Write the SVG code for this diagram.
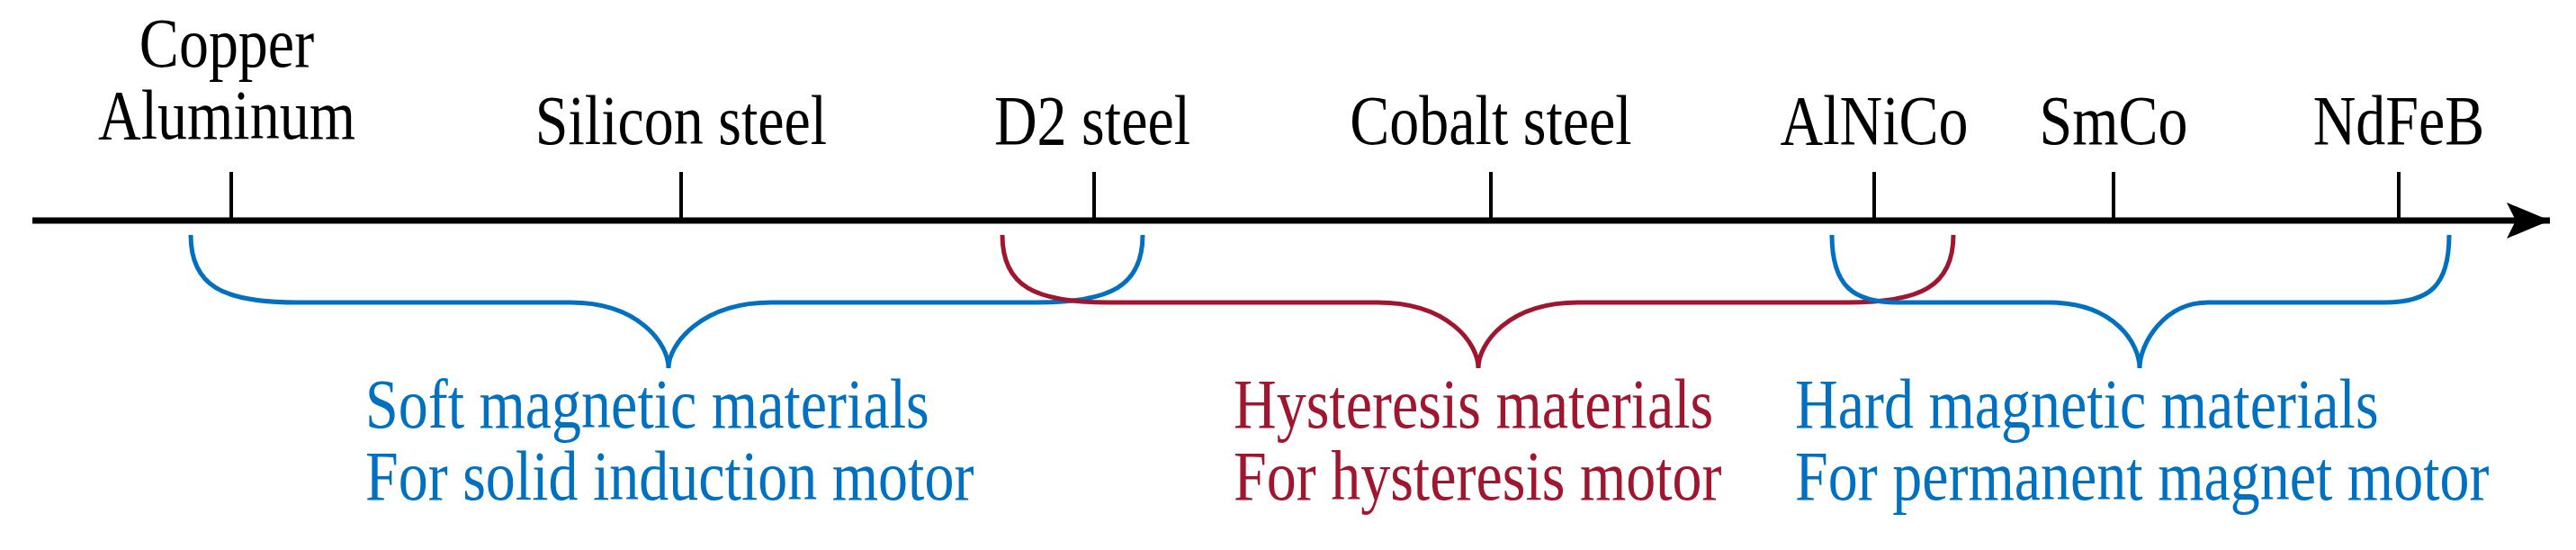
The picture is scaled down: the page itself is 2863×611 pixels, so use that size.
<svg xmlns="http://www.w3.org/2000/svg" width="2863" height="611" viewBox="0 0 2863 611">
<style>
text{font-family:"Liberation Serif","Times New Roman",serif;font-size:66px}
.k{fill:#000;text-anchor:middle}
.b{fill:#0070C0}.r{fill:#A0162F}
.tick{stroke:#000;stroke-width:4}
.br{fill:none;stroke-width:5}
</style>
<defs><marker id="ah" markerWidth="52" markerHeight="44" refX="48" refY="20" orient="auto" markerUnits="userSpaceOnUse"><path d="M0,0 L48,20 L0,40 L10,20 Z" fill="#000"/></marker></defs>
<g id="axis">
<line x1="36" y1="245" x2="2834" y2="245" stroke="#000" stroke-width="7" marker-end="url(#ah)"/>
<line class="tick" x1="257" y1="191" x2="257" y2="245"/>
<line class="tick" x1="757" y1="191" x2="757" y2="245"/>
<line class="tick" x1="1216" y1="191" x2="1216" y2="245"/>
<line class="tick" x1="1657" y1="191" x2="1657" y2="245"/>
<line class="tick" x1="2083" y1="191" x2="2083" y2="245"/>
<line class="tick" x1="2349" y1="191" x2="2349" y2="245"/>
<line class="tick" x1="2666" y1="191" x2="2666" y2="245"/>
</g>
<g id="labels">
<text class="k" transform="translate(252,74) scale(1,1.18)">Copper</text>
<text class="k" transform="translate(252,154) scale(1,1.18)">Aluminum</text>
<text class="k" transform="translate(757,160) scale(1,1.18)">Silicon steel</text>
<text class="k" transform="translate(1214,160) scale(1,1.18)">D2 steel</text>
<text class="k" transform="translate(1657,160) scale(1,1.18)">Cobalt steel</text>
<text class="k" transform="translate(2083,160) scale(1,1.18)">AlNiCo</text>
<text class="k" transform="translate(2349,160) scale(1,1.18)">SmCo</text>
<text class="k" transform="translate(2666,160) scale(1,1.18)">NdFeB</text>
</g>
<g id="connectors">
<path class="br" stroke="#0070C0" d="M212,261 C212,318 248,336 330,336 L634,336 C710,336 743,382 743,409 C743,382 780,336 857,336 L1152,336 C1234,336 1270,318 1270,261"/>
<path class="br" stroke="#A0162F" d="M1114,261 C1114,318 1150,336 1232,336 L1531,336 C1610,336 1643,382 1643,409 C1643,382 1676,336 1754,336 L2053,336 C2135,336 2171,318 2171,261"/>
<path class="br" stroke="#0070C0" d="M2036,261 C2036,318 2060,336 2109,336 L2277,336 C2350,336 2378,382 2378,409 C2378,382 2405,336 2454,336 L2650,336 C2700,336 2722,318 2722,261"/>
</g>
<g id="soft"><text class="b" transform="translate(406,475) scale(1,1.18)">Soft magnetic materials</text><text class="b" transform="translate(406,555) scale(1,1.18)">For solid induction motor</text></g>
<g id="hyst"><text class="r" transform="translate(1371,475) scale(1,1.18)">Hysteresis materials</text><text class="r" transform="translate(1371,555) scale(1,1.18)">For hysteresis motor</text></g>
<g id="hard"><text class="b" transform="translate(1995,475) scale(1,1.18)">Hard magnetic materials</text><text class="b" transform="translate(1995,555) scale(1,1.18)">For permanent magnet motor</text></g>
</svg>
